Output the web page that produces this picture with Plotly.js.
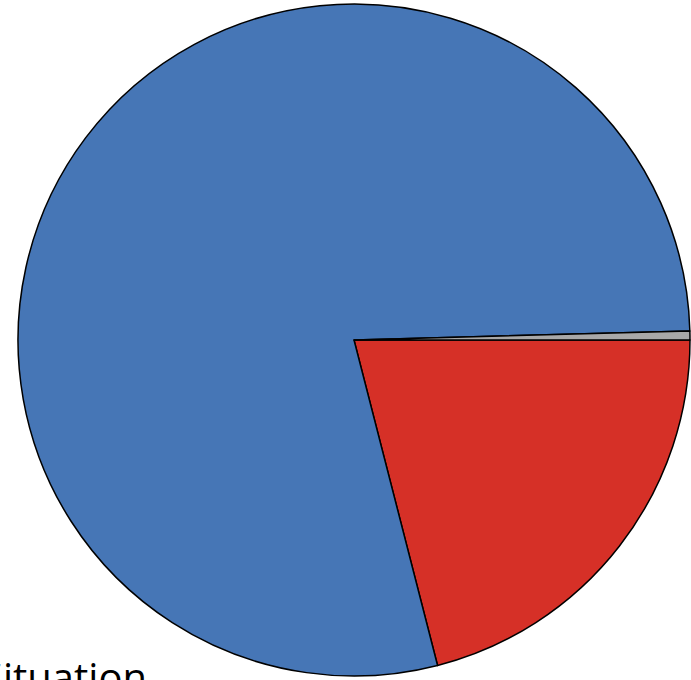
<!DOCTYPE html>
<html>
<head>
<meta charset="utf-8">
<script src="https://cdn.plot.ly/plotly-3.0.1.min.js"></script>
<style>html,body{margin:0;padding:0;background:#fff;}#chart{width:691px;height:680px;}</style>
</head>
<body>
<div id="chart"></div>
<script>
const labels = ["Red", "Blue", "Gray"];
const values = [21.0, 78.57, 0.43];
const colors = ["#D63027", "#4676B6", "#A8A8A8"];
const titleText = "Situation";

Plotly.newPlot("chart", [{
  type: "pie",
  labels: labels,
  values: values,
  sort: false,
  direction: "clockwise",
  rotation: 90,
  textinfo: "none",
  hoverinfo: "none",
  marker: {colors: colors, line: {color: "#000", width: 1.5}},
  domain: {x: [18/691, 690/691], y: [4/680, 676/680]}
}], {
  width: 691, height: 680,
  margin: {l: 0, r: 0, t: 0, b: 0},
  showlegend: false,
  paper_bgcolor: "#fff",
  annotations: [{
    text: titleText, xref: "paper", yref: "paper",
    x: -0.03, y: (680 - 647) / 680, xanchor: "left", yanchor: "top",
    showarrow: false, font: {family: "'Open Sans', sans-serif", size: 40, color: "#000"}
  }]
}, {displayModeBar: false, staticPlot: true});
</script>
</body>
</html>
